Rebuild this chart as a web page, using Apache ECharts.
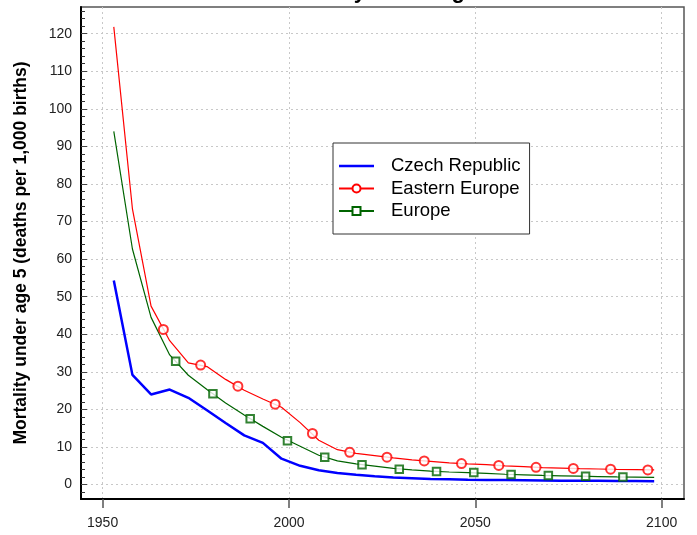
<!DOCTYPE html>
<html>
<head>
<meta charset="utf-8">
<script src="https://cdn.jsdelivr.net/npm/echarts@6/dist/echarts.min.js"></script>
<style>
html,body{margin:0;padding:0;background:#fff;}
#chart{width:697px;height:535px;}
</style>
</head>
<body>
<div id="chart"></div>
<script>
// ---- data ----
const years = [1953,1958,1963,1968,1973,1978,1983,1988,1993,1998,2003,2008,2013,2018,2023,2028,2033,2038,2043,2048,2053,2058,2063,2068,2073,2078,2083,2088,2093,2098];
const czech = [54.3,29.2,24.0,25.3,23.1,19.8,16.4,13.1,11.1,6.9,5.0,3.8,3.1,2.6,2.2,1.9,1.7,1.5,1.4,1.3,1.25,1.2,1.15,1.1,1.05,1.0,1.0,0.95,0.95,0.9];
const easternEurope = [121.8,73.4,47.5,38.3,32.4,31.4,28.0,25.1,22.8,20.6,16.5,11.8,9.3,8.3,7.7,7.1,6.6,6.2,5.8,5.5,5.3,5.0,4.8,4.5,4.4,4.25,4.15,4.05,4.0,3.9];
const europe = [94.0,62.7,44.5,34.5,29.1,25.3,21.7,18.5,15.5,12.6,10.2,7.8,6.3,5.5,4.9,4.3,3.9,3.6,3.35,3.2,3.0,2.75,2.6,2.45,2.35,2.25,2.15,2.05,2.0,1.95];
const eeMarkYears = [1966.3,1976.3,1986.3,1996.3,2006.3,2016.3,2026.3,2036.3,2046.3,2056.3,2066.3,2076.3,2086.3,2096.3];
const eeMarkValues = [41.3,31.8,26.2,21.4,13.6,8.6,7.3,6.3,5.6,5.1,4.6,4.3,4.1,3.9];
const euMarkYears = [1969.6,1979.6,1989.6,1999.6,2009.6,2019.6,2029.6,2039.6,2049.6,2059.6,2069.6,2079.6,2089.6];
const euMarkValues = [32.8,24.2,17.5,11.7,7.3,5.3,4.1,3.5,3.2,2.7,2.4,2.2,2.0];
const xTicks = [1950,2000,2050,2100];
const yTicks = [0,10,20,30,40,50,60,70,80,90,100,110,120];
const yMinorTicks = [-2,2,4,6,8,12,14,16,18,22,24,26,28,32,34,36,38,42,44,46,48,52,54,56,58,62,64,66,68,72,74,76,78,82,84,86,88,92,94,96,98,102,104,106,108,112,114,116,118,122,124,126];
const seriesNames = ['Czech Republic','Eastern Europe','Europe'];
const titleText = 'Mortality under age 5';
const yAxisName = 'Mortality under age 5 (deaths per 1,000 births)';

const pairs = (xs, ys) => xs.map((x, i) => [x, ys[i]]);
const FONT = 'Liberation Sans, Arial, sans-serif';

const chart = echarts.init(document.getElementById('chart'), null, {renderer: 'canvas'});
chart.setOption({
  animation: false,
  backgroundColor: '#fff',
  textStyle: {fontFamily: FONT},
  title: {
    text: titleText,
    left: 380, top: -24.5, textAlign: 'center',
    textStyle: {fontFamily: FONT, fontSize: 22, fontWeight: 'bold', color: '#000'}
  },
  grid: {
    left: 81, right: 13, top: 7, bottom: 36,
    show: true, borderColor: '#555', borderWidth: 1.5, backgroundColor: 'transparent'
  },
  legend: {
    data: [
      {name: seriesNames[0], icon: 'path://M0,0h35v2.5h-35z'},
      {name: seriesNames[1]},
      {name: seriesNames[2]}
    ],
    orient: 'vertical',
    left: 333, top: 143,
    backgroundColor: '#fff',
    borderColor: '#333', borderWidth: 1,
    padding: [13, 9, 13, 5],
    itemWidth: 35, itemHeight: 10, itemGap: 2.5,
    selectedMode: false,
    textStyle: {fontFamily: FONT, fontSize: 18.5, color: '#000', lineHeight: 20, padding: [0,0,0,12]}
  },
  xAxis: {
    type: 'value', min: 1944.2, max: 2106,
    axisLine: {show: true, onZero: false, lineStyle: {color: '#000', width: 2}},
    axisTick: {show: true, inside: false, length: 9, customValues: xTicks, lineStyle: {color: '#555', width: 1.5}},
    axisLabel: {customValues: xTicks, margin: 17, fontSize: 14, color: '#222', fontFamily: FONT,
      formatter: v => String(Math.round(v))},
    splitLine: {show: true, lineStyle: {color: '#c8c8c8', type: [2, 3], width: 1}}
  },
  yAxis: [{
    type: 'value', min: -3.83, max: 127.1,
    name: yAxisName, nameLocation: 'middle', nameGap: 51,
    nameTextStyle: {fontFamily: FONT, fontSize: 17.5, fontWeight: 'bold', color: '#000'},
    axisLine: {show: true, onZero: false, lineStyle: {color: '#000', width: 2}},
    axisTick: {show: true, inside: true, length: 6, customValues: yTicks, lineStyle: {color: '#444', width: 1}},
    axisLabel: {customValues: yTicks, margin: 9, fontSize: 14, color: '#222', fontFamily: FONT,
      formatter: v => String(Math.round(v))},
    splitLine: {show: true, lineStyle: {color: '#c8c8c8', type: [2, 3], width: 1}}
  }, {
    type: 'value', min: -3.83, max: 127.1, position: 'left',
    axisLine: {show: false},
    axisTick: {show: true, inside: true, length: 4, customValues: yMinorTicks, lineStyle: {color: '#333', width: 1}},
    axisLabel: {show: false},
    splitLine: {show: false}
  }],
  series: [
    {name: seriesNames[0], type: 'line', data: pairs(years, czech), symbol: 'none', showSymbol: false,
     lineStyle: {color: '#0000ff', width: 2.5}, itemStyle: {color: '#0000ff'}, silent: true, z: 3},
    {name: seriesNames[1], type: 'line', data: pairs(years, easternEurope), symbol: 'emptyCircle', showSymbol: false,
     lineStyle: {color: '#ff0000', width: 1.2}, itemStyle: {color: '#ff0000', borderWidth: 1.2}, silent: true, z: 2},
    {name: seriesNames[2], type: 'line', data: pairs(years, europe), symbol: 'emptyRect', showSymbol: false,
     lineStyle: {color: '#006400', width: 1.2}, itemStyle: {color: '#006400', borderWidth: 1.2}, silent: true, z: 2},
    {name: seriesNames[1], type: 'scatter', data: pairs(eeMarkYears, eeMarkValues), symbol: 'emptyCircle', symbolSize: 9,
     itemStyle: {color: '#ff0000', borderWidth: 1.2}, silent: true, z: 4},
    {name: seriesNames[2], type: 'scatter', data: pairs(euMarkYears, euMarkValues), symbol: 'emptyRect', symbolSize: 7.5,
     itemStyle: {color: '#006400', borderWidth: 1.2}, silent: true, z: 4}
  ]
});
</script>
</body>
</html>
